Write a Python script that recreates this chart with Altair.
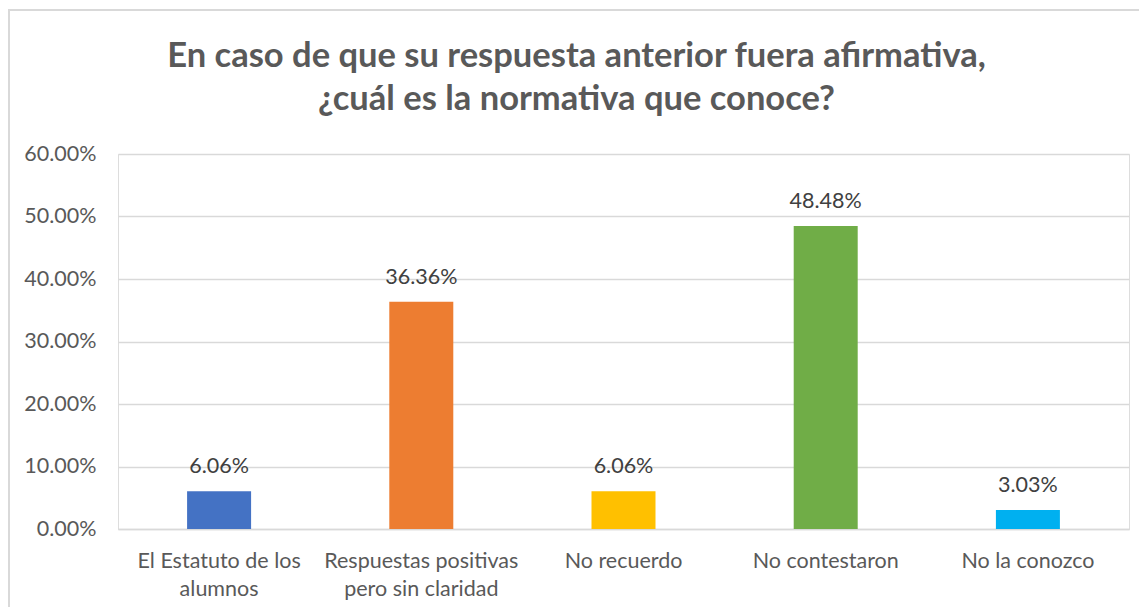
import altair as alt
import pandas as pd

categories = ["El Estatuto de los\nalumnos", "Respuestas positivas\npero sin claridad",
              "No recuerdo", "No contestaron", "No la conozco"]
values = [0.0606, 0.3636, 0.0606, 0.4848, 0.0303]
labels = ["6.06%", "36.36%", "6.06%", "48.48%", "3.03%"]
colors = ["#4472C4", "#ED7D31", "#FFC000", "#70AD47", "#00B0F0"]
title_lines = ["En caso de que su respuesta anterior fuera afirmativa,",
               "¿cuál es la normativa que conoce?"]

df = pd.DataFrame({"cat": categories, "val": values, "lab": labels})

FONT = "Lato"
FS = 21.5

x = alt.X("cat:N", sort=categories, title=None,
          scale=alt.Scale(paddingInner=0.6835, paddingOuter=0.3417),
          axis=alt.Axis(labelAngle=0, labelExpr="split(datum.label, '\\n')",
                        labelFontSize=FS, labelColor="#595959", labelFont=FONT,
                        labelPadding=21, labelLineHeight=28, labelLimit=0, ticks=False,
                        domainColor="#d9d9d9", domainWidth=1.5, grid=False))
y = alt.Y("val:Q", title=None,
          scale=alt.Scale(domain=[0, 0.6], nice=False),
          axis=alt.Axis(format=".2%", values=[0, 0.1, 0.2, 0.3, 0.4, 0.5, 0.6],
                        labelFontSize=FS, labelColor="#595959", labelFont=FONT,
                        labelPadding=22, ticks=False, domain=False,
                        gridColor="#d9d9d9", gridWidth=1.5))

bars = alt.Chart(df).mark_bar().encode(
    x=x, y=y,
    color=alt.Color("cat:N", sort=categories,
                    scale=alt.Scale(domain=categories, range=colors), legend=None),
)

text = alt.Chart(df).mark_text(baseline="alphabetic", dy=-18, fontSize=FS,
                               font=FONT, color="#404040").encode(
    x=alt.X("cat:N", sort=categories), y="val:Q", text="lab:N")

border = alt.Chart(df).mark_rect(fill=None, stroke="#d9d9d9", strokeWidth=2).encode(
    x=alt.value(-109), x2=alt.value(1200), y=alt.value(-144), y2=alt.value(700))

chart = alt.layer(border, bars, text).properties(
    width=1011, height=375,
    padding={"left": 110, "top": 146, "right": 10, "bottom": 78},
    autosize=alt.AutoSizeParams(type="none"),
    title=alt.TitleParams(text=title_lines, font=FONT, fontSize=34.5, fontWeight="bold",
                          color="#595959", anchor="middle", dx=-47, offset=-108,
                          lineHeight=43),
).configure_view(stroke=None).configure(background="white")

chart.save("out.html", embed_options={"renderer": "svg", "actions": False})
